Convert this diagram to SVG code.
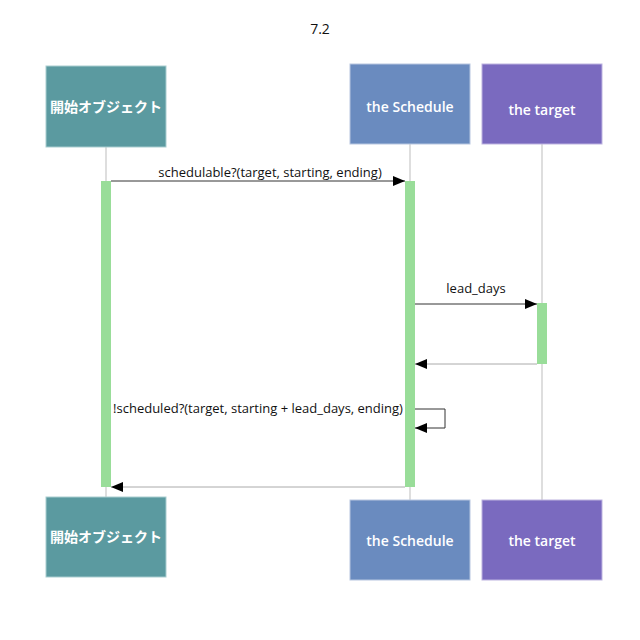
<svg xmlns="http://www.w3.org/2000/svg" width="640" height="640" viewBox="0 0 640 640">
<defs>
<style>
.box{stroke-width:1}
.lbl{font-family:"Open Sans","Noto Sans CJK JP",sans-serif;font-size:14px;font-weight:600;fill:#ffffff;text-anchor:middle}
.msg{font-family:"Open Sans","Noto Sans CJK JP",sans-serif;font-size:13px;fill:#111;text-anchor:middle}
.life{stroke:#c8c8c8;stroke-width:1.2}
.act{fill:#99dd99}
.call{stroke:#333;stroke-width:1;fill:none}
.ret{stroke:#aaa;stroke-width:1;fill:none}
</style>
<marker id="ah" markerWidth="12" markerHeight="10" refX="12" refY="5" orient="auto" markerUnits="userSpaceOnUse">
<path d="M0,0 L12,5 L0,10 Z" fill="#000"/>
</marker>
</defs>
<rect width="640" height="640" fill="#fff"/>
<text x="320" y="34" class="msg" style="font-size:14px">7.2</text>
<g id="lifelines">
<line class="life" x1="106" y1="147" x2="106" y2="497"/>
<line class="life" x1="410" y1="144" x2="410" y2="500"/>
<line class="life" x1="542" y1="144" x2="542" y2="500"/>
</g>
<g id="start-top"><rect class="box" x="46" y="66" width="120" height="81" fill="#5b9aa0" stroke="#a9cdd0"/><text class="lbl" x="106" y="112">開始オブジェクト</text></g>
<g id="schedule-top"><rect class="box" x="350" y="64" width="120" height="80" fill="#6a8bbf" stroke="#b7c6e0"/><text class="lbl" x="410" y="112">the Schedule</text></g>
<g id="target-top"><rect class="box" x="482" y="64" width="120" height="80" fill="#7a6abf" stroke="#bdb3e0"/><text class="lbl" x="542" y="115">the target</text></g>
<g id="start-bottom"><rect class="box" x="46" y="497" width="120" height="80" fill="#5b9aa0" stroke="#a9cdd0"/><text class="lbl" x="106" y="542">開始オブジェクト</text></g>
<g id="schedule-bottom"><rect class="box" x="350" y="500" width="120" height="80" fill="#6a8bbf" stroke="#b7c6e0"/><text class="lbl" x="410" y="546">the Schedule</text></g>
<g id="target-bottom"><rect class="box" x="482" y="500" width="120" height="80" fill="#7a6abf" stroke="#bdb3e0"/><text class="lbl" x="542" y="546">the target</text></g>
<g id="activations">
<rect class="act" x="101" y="181" width="10" height="306"/>
<rect class="act" x="405" y="181" width="10" height="306"/>
<rect class="act" x="537" y="303" width="10" height="61"/>
</g>
<g id="connectors">
<line class="call" x1="111" y1="181" x2="405" y2="181" marker-end="url(#ah)"/>
<text class="msg" x="270" y="177">schedulable?(target, starting, ending)</text>
<line class="call" x1="415" y1="304" x2="537" y2="304" marker-end="url(#ah)"/>
<text class="msg" x="476" y="293">lead_days</text>
<line class="ret" x1="537" y1="364" x2="415" y2="364" marker-end="url(#ah)"/>
<path class="call" d="M415,409 H445 V428 H415" marker-end="url(#ah)"/>
<text class="msg" x="258" y="413">!scheduled?(target, starting + lead_days, ending)</text>
<line class="ret" x1="405" y1="487" x2="111" y2="487" marker-end="url(#ah)"/>
</g>
</svg>
